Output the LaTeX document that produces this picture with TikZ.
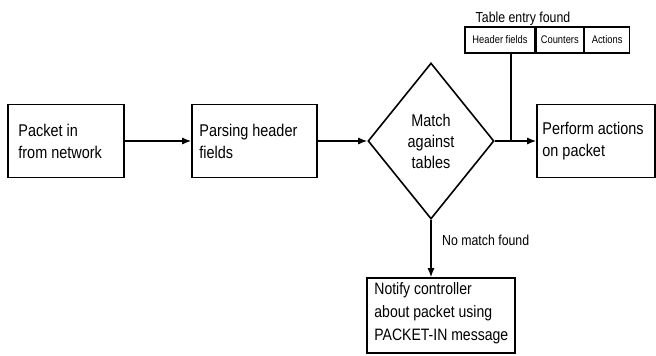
\documentclass[tikz,border=0pt]{standalone}
\usepackage{fontspec}
\setmainfont{Liberation Sans}[FakeStretch=0.85]
\usetikzlibrary{arrows.meta,shapes.geometric}
\begin{document}
\begin{tikzpicture}[x=1pt,y=-1pt,
  box/.style={draw,line width=1.6pt,minimum height=73pt,inner sep=0pt},
  txt/.style={align=left,anchor=west,inner sep=0pt,
    font=\fontsize{17}{22}\selectfont},
  flow/.style={line width=1.3pt,-{Latex[length=9pt,width=7pt]}},
  cell/.style={draw,line width=1.3pt,minimum height=26pt,inner sep=0pt,
    font=\fontsize{11}{13}\selectfont},
  lbl/.style={font=\fontsize{14.5}{17}\selectfont,inner sep=0pt}]
\useasboundingbox (0,0) rectangle (656,356);
\fill[white] (0,0) rectangle (656,356);

% processing steps
\node[box,minimum width=116pt] (in) at (66,141) {};
\node[txt] (in-t) at ([xshift=11pt]in.west) {Packet in\\from network};
\node[box,minimum width=125pt] (parse) at (254.5,141) {};
\node[txt] (parse-t) at ([xshift=8pt]parse.west) {Parsing header\\fields};
\node[draw,line width=1.6pt,diamond,minimum width=126pt,minimum height=156pt,
  inner sep=0pt,align=center,font=\fontsize{17}{21}\selectfont] (match) at (431,141)
  {Match\\against\\tables};
\node[box,minimum width=118pt] (act) at (596,141) {};
\node[txt] (act-t) at ([xshift=6pt]act.west) {Perform actions\\on packet};
\node[box,minimum width=148pt,minimum height=75pt] (notify) at (441,315.5) {};
\node[txt,font=\fontsize{16.5}{23}\selectfont] (notify-t) at ([xshift=8pt,yshift=2pt]notify.west)
  {Notify controller\\about packet using\\PACKET-IN message};

% flow table entry
\node[cell,minimum width=70pt] (hdr) at (500,40) {Header fields};
\node[cell,minimum width=47pt,anchor=west] (cnt) at (hdr.east) {Counters};
\node[cell,minimum width=45pt,anchor=west] (acts) at (cnt.east) {Actions};
\node[lbl,anchor=base] (found) at (523,22) {Table entry found};
\coordinate (join) at (511,141);
\coordinate (tap) at (511,53);

% connectors
\draw[flow] (in) -- (parse);
\draw[flow] (parse) -- (match);
\draw[flow] (match.east) -- (act.west);
\draw[line width=1.3pt] (tap) -- (join);
\draw[flow] (match.south) -- (notify.north -| match.south);
\node[lbl,anchor=base west] (nomatch) at (442,245) {No match found};
\end{tikzpicture}
\end{document}
